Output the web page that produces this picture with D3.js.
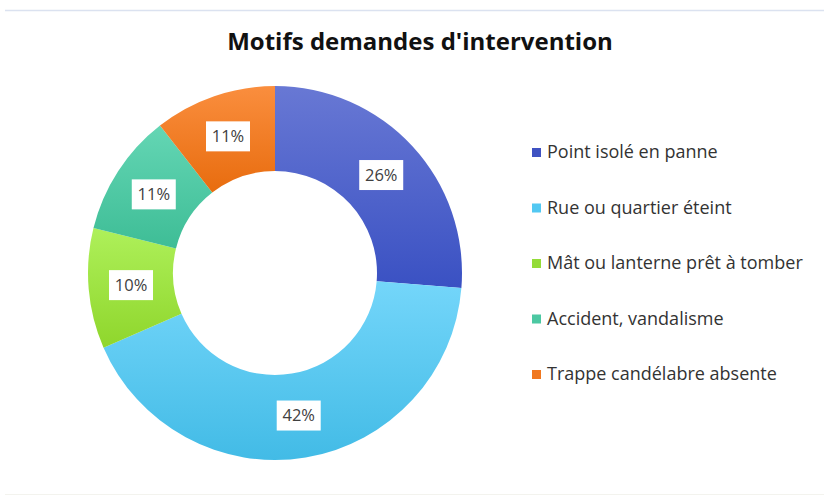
<!DOCTYPE html>
<html lang="fr">
<head>
    <meta charset="UTF-8">
    <title>Motifs demandes d'intervention</title>
    <style>
        body {
            margin: 0;
            background: #ffffff;
        }
        #chart svg {
            display: block;
        }
        .title {
            font-family: "Open Sans", sans-serif;
            font-weight: bold;
            font-size: 24px;
            fill: #111;
            text-anchor: middle;
        }
        .legend text {
            font-family: "Open Sans", sans-serif;
            font-size: 18px;
            fill: #333;
        }
        .lbl text {
            font-family: "Open Sans", sans-serif;
            font-size: 16.5px;
            fill: #404040;
            text-anchor: middle;
        }
    </style>
</head>
<body>
<div id="chart"></div>

<script src="https://cdn.jsdelivr.net/npm/d3@7"></script>
<script>
    // data (parts, en %)
    const categories = ["Point isolé en panne", "Rue ou quartier éteint", "Mât ou lanterne prêt à tomber",
        "Accident, vandalisme", "Trappe candélabre absente"];
    const values = [26.3, 42.2, 10.4, 10.6, 10.55];

    // couleurs : haut / bas du dégradé, légende
    const colTop = ["#6878d4", "#74d6fa", "#aef05a", "#64d6b4", "#fa8e3e"];
    const colBottom = ["#3a51c3", "#42bbe6", "#8fd62c", "#3ebd96", "#e86c0e"];
    const colLegend = ["#3f52c2", "#52c8f2", "#94dc38", "#4cc8a2", "#f07820"];

    const W = 824, H = 496;
    const cx = 275, cy = 273, rOut = 187, rIn = 102;

    const svg = d3.select("#chart").append("svg")
        .attr("width", W)
        .attr("height", H);

    // lignes de bordure
    svg.append("line")
        .attr("x1", 5).attr("x2", W).attr("y1", 10.5).attr("y2", 10.5)
        .attr("stroke", "#dbe2f0").attr("stroke-width", 1.5);
    svg.append("line")
        .attr("x1", 5).attr("x2", W).attr("y1", 494.5).attr("y2", 494.5)
        .attr("stroke", "#f3f3ee").attr("stroke-width", 1);

    // dégradés
    const defs = svg.append("defs");
    categories.forEach(function (c, i) {
        let g = defs.append("linearGradient")
            .attr("id", "grad" + i)
            .attr("x1", 0).attr("y1", 0).attr("x2", 0).attr("y2", 1);
        g.append("stop").attr("offset", "0%").attr("stop-color", colTop[i]);
        g.append("stop").attr("offset", "100%").attr("stop-color", colBottom[i]);
    });

    svg.append("text")
        .attr("class", "title")
        .attr("x", 420)
        .attr("y", 50)
        .text("Motifs demandes d'intervention");

    const pie = d3.pie().sort(null).value(d => d);
    const arc = d3.arc().innerRadius(rIn).outerRadius(rOut);
    const arcs = pie(values);

    const g = svg.append("g")
        .attr("transform", "translate(" + cx + "," + cy + ")");

    g.selectAll("path")
        .data(arcs)
        .enter().append("path")
        .attr("d", arc)
        .attr("fill", (d, i) => "url(#grad" + i + ")");

    // étiquettes
    const total = d3.sum(values);
    const lbl = g.selectAll("g.lbl")
        .data(arcs)
        .enter().append("g")
        .attr("class", "lbl")
        .attr("transform", d => "translate(" + arc.centroid(d) + ")");

    lbl.append("rect")
        .attr("x", -22).attr("y", -15)
        .attr("width", 44).attr("height", 30)
        .attr("fill", "#fff");
    lbl.append("text")
        .attr("dy", "0.36em")
        .text(d => Math.round(d.value / total * 100) + "%");

    // légende
    const leg = svg.append("g")
        .attr("class", "legend")
        .selectAll("g")
        .data(categories)
        .enter().append("g")
        .attr("transform", (d, i) => "translate(532," + (152 + i * 55.5) + ")");

    leg.append("rect")
        .attr("x", 0).attr("y", -4)
        .attr("width", 9).attr("height", 9)
        .attr("fill", (d, i) => colLegend[i]);
    leg.append("text")
        .attr("x", 15)
        .attr("dy", "0.36em")
        .text(d => d);
</script>
</body>
</html>
